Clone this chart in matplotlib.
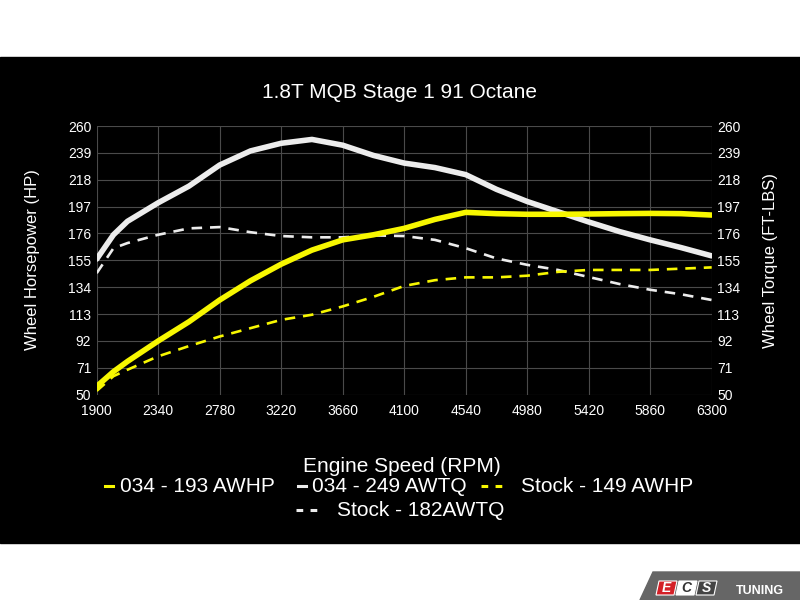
"""
dyno chart for the 1.8T MQB stage 1 tune on 91 octane
hp and torque for the 034 tune and for stock, on a black panel
"""

import matplotlib
matplotlib.use("Agg")
import matplotlib.pyplot as plt
from matplotlib.lines import Line2D
from matplotlib.patches import Polygon, Rectangle

plt.rcParams["font.family"] = ["Liberation Sans", "DejaVu Sans"]

# values
rpm = [1900, 2020, 2120, 2340, 2560, 2780, 3000, 3220, 3440, 3660, 3880,
       4100, 4320, 4540, 4760, 4980, 5200, 5420, 5640, 5860, 6080, 6300]
tq_034 = [156, 175, 185.5, 200, 213, 229.5, 240.5, 246.5, 249.5, 245, 237,
          231, 227.5, 222, 210.5, 201, 193, 185, 177.5, 171, 165, 158.5]
hp_034 = [56.5, 68, 76, 92, 107, 124, 139, 152, 163, 171, 175,
          180, 187, 192.5, 191.5, 191, 191, 191.2, 191.5, 191.7, 191.5, 190.4]
tq_stock = [145, 164.5, 168.5, 175, 180, 181, 177, 174, 173, 173, 174.5,
            174, 171, 164.5, 156.5, 151.5, 147.5, 142, 136.5, 132, 128.5, 124]
hp_stock = [53, 64.5, 69.5, 80, 88, 95.5, 102, 108.5, 112.5, 119, 126.5,
            135, 139.5, 141.7, 141.7, 143, 146, 147.5, 147.5, 147.5, 148.5, 149.5]

x_ticks = [1900, 2340, 2780, 3220, 3660, 4100, 4540, 4980, 5420, 5860, 6300]
y_ticks = [50, 71, 92, 113, 134, 155, 176, 197, 218, 239, 260]

labels = ["034 - 193 AWHP", "034 - 249 AWTQ", "Stock - 149 AWHP", "Stock - 182AWTQ"]

yellow = "#f7f700"
white = "#ececec"
grid = "#4a4a4a"

fig = plt.figure(figsize=(8, 6), dpi=100, facecolor="white")

# black panel behind the chart, white strips top and bottom
fig.patches.append(Rectangle((0, 1 - 543 / 600), 1, 486 / 600,
                             transform=fig.transFigure, color="black", zorder=-5))

ax = fig.add_axes([96.7 / 800, 1 - 394.7 / 600, 615 / 800, 268.7 / 600])
ax.set_facecolor("black")
ax.set_xlim(1900, 6300)
ax.set_ylim(50, 260)
ax.set_xticks(x_ticks)
ax.set_yticks(y_ticks)
ax.grid(True, color=grid, linewidth=0.8)
for s in ax.spines.values():
    s.set_visible(False)
ax.tick_params(colors="white", labelsize=10, length=0, pad=4)
ax.tick_params(axis="x", pad=7)

ax2 = ax.twinx()
ax2.set_ylim(50, 260)
ax2.set_yticks(y_ticks)
for s in ax2.spines.values():
    s.set_visible(False)
ax2.tick_params(colors="white", labelsize=10, length=0, pad=4)

dash = (4, 3)
ax.plot(rpm, tq_stock, color=white, lw=1.9, dashes=dash, zorder=3)
ax.plot(rpm, hp_stock, color=yellow, lw=1.9, dashes=dash, zorder=3)
ax.plot(rpm, tq_034, color=white, lw=4, solid_joinstyle="round",
        solid_capstyle="round", zorder=4)
ax.plot(rpm, hp_034, color=yellow, lw=4, solid_joinstyle="round",
        solid_capstyle="round", zorder=5)

fig.text(0.5, 1 - 92 / 600, "1.8T MQB Stage 1 91 Octane", color="white",
         fontsize=15, ha="center", va="center")
fig.text(33 / 800, 1 - 260 / 600, "Wheel Horsepower (HP)", color="white",
         fontsize=12, rotation=90, ha="center", va="center")
fig.text(770 / 800, 1 - 260 / 600, "Wheel Torque (FT-LBS)", color="white",
         fontsize=12, rotation=90, ha="center", va="center")
fig.text(402 / 800, 1 - 466 / 600, "Engine Speed (RPM)", color="white",
         fontsize=15, ha="center", va="center")

# legend drawn by hand: three entries on the first row, one under them
legend_pos = [(105, 120, 486), (298, 312, 486), (481, 521, 486), (296, 337, 510)]
legend_style = [(yellow, "solid"), (white, "solid"), (yellow, "dash"), (white, "dash")]
for (x0, xt, y), (col, kind), lab in zip(legend_pos, legend_style, labels):
    yy = 1 - y / 600
    if kind == "solid":
        fig.lines.append(Line2D([x0 / 800, (x0 + 8) / 800], [yy, yy],
                                transform=fig.transFigure, color=col, lw=2.2))
    else:
        fig.lines.append(Line2D([x0 / 800, (x0 + 24) / 800], [yy, yy],
                                transform=fig.transFigure, color=col, lw=2.2,
                                dashes=(2.2, 2.4)))
    fig.text(xt / 800, yy, lab, color="white", fontsize=15, ha="left", va="center")

# ECS tuning badge in the bottom right corner
fig.patches.append(Polygon([(640 / 800, 0), (653 / 800, 1 - 572 / 600),
                            (1, 1 - 572 / 600), (1, 0)],
                           transform=fig.transFigure, color="#666666", zorder=1))
badge = [("E", "#d42027", "white"), ("C", "white", "#333333"), ("S", "#444444", "white")]
for i, (letter, fill, ink) in enumerate(badge):
    bx = 656 + i * 20
    fig.patches.append(Polygon([((bx) / 800, 1 - 595 / 600), ((bx + 3) / 800, 1 - 581 / 600),
                                ((bx + 21) / 800, 1 - 581 / 600), ((bx + 18) / 800, 1 - 595 / 600)],
                               transform=fig.transFigure, facecolor=fill,
                               edgecolor="white", lw=0.8, zorder=2))
    fig.text((bx + 10.5) / 800, 1 - 588.5 / 600, letter, color=ink, fontsize=10,
             fontweight="bold", style="italic", ha="center", va="center", zorder=3)
fig.text(760 / 800, 1 - 591 / 600, "TUNING", color="white", fontsize=9,
         fontweight="bold", ha="center", va="center", zorder=3)

fig.savefig("out.png", dpi=100, facecolor="white")
